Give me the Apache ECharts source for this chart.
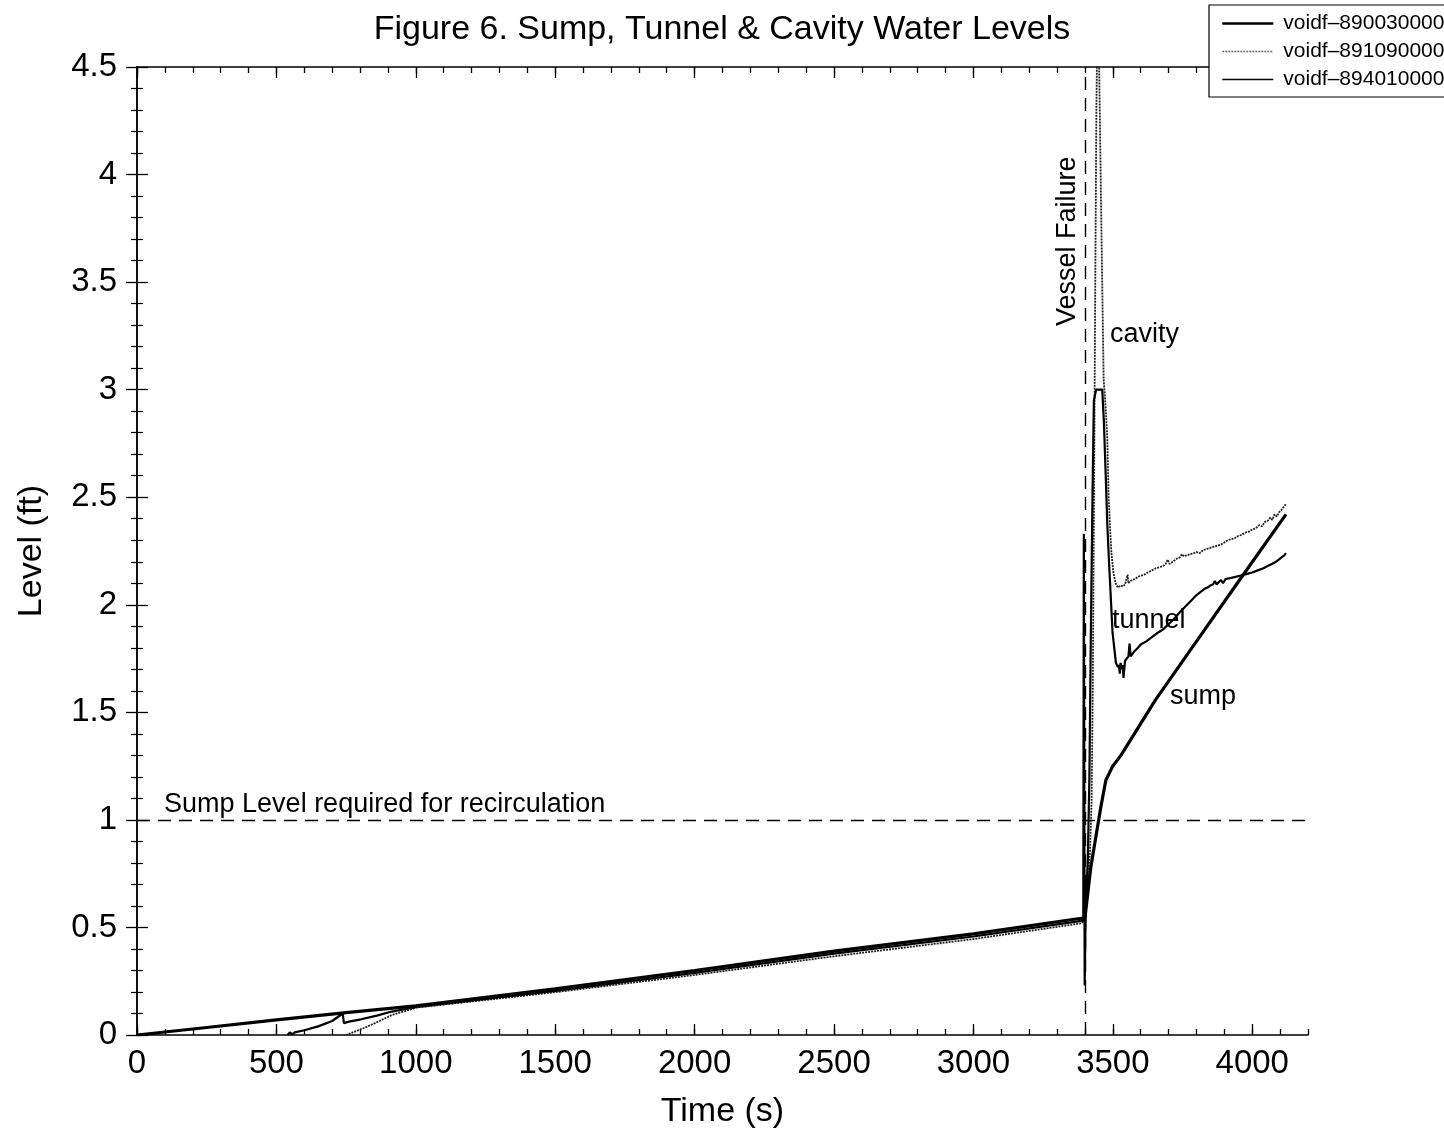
<!DOCTYPE html>
<html>
<head>
<meta charset="utf-8">
<style>
  html, body { margin: 0; padding: 0; background: #fff; }
  #chart { width: 1444px; height: 1134px; }
</style>
<script src="https://cdn.jsdelivr.net/npm/echarts@6/dist/echarts.min.js"></script>
</head>
<body>
<div id="chart"></div>
<script>
// Sump water level (voidf-890030000)
const sumpTime  = [0, 250, 500, 750, 1000, 1500, 2000, 2500, 3000, 3400, 3405, 3421, 3439, 3457, 3475, 3499, 3529, 3653, 3800, 3957, 4121];
const sumpLevel = [0, 0.035, 0.07, 0.104, 0.135, 0.215, 0.30, 0.39, 0.47, 0.545, 0.6, 0.78, 0.92, 1.06, 1.185, 1.248, 1.30, 1.558, 1.83, 2.12, 2.42];

// Cavity water level (voidf-891090000)
const cavityTime  = [749, 790, 826, 870, 914, 1002, 1500, 2000, 2500, 3000, 3390, 3399, 3404, 3410, 3418, 3424, 3428, 3433, 3437, 3441, 3444, 3451, 3459, 3467, 3474, 3480, 3485, 3490, 3495, 3502, 3510, 3518,
  3528, 3536, 3544, 3550, 3553, 3556, 3562, 3570, 3580, 3590, 3600, 3612, 3625, 3640, 3655, 3668, 3680, 3690, 3697, 3703, 3715, 3730, 3740, 3748, 3755, 3765, 3778, 3790, 3800, 3812, 3825, 3838, 3850, 3862, 3875, 3888, 3900, 3912, 3925, 3938, 3950, 3962, 3975, 3988, 4000, 4012, 4025, 4035, 4045, 4055, 4065, 4072, 4080, 4088, 4096, 4104, 4110, 4116, 4121];
const cavityLevel = [0, 0.02, 0.039, 0.065, 0.093, 0.127, 0.199, 0.279, 0.366, 0.446, 0.52, 0.55, 0.62, 0.72, 0.85, 1.1, 1.6, 2.6, 3.5, 4.3, 4.62, 4.5, 3.75, 3.05, 2.92, 2.78, 2.5, 2.36, 2.24, 2.15, 2.10, 2.08,
  2.09, 2.085, 2.095, 2.09, 2.14, 2.10, 2.11, 2.115, 2.12, 2.13, 2.135, 2.14, 2.15, 2.16, 2.17, 2.175, 2.18, 2.19, 2.21, 2.19, 2.20, 2.215, 2.22, 2.235, 2.225, 2.23, 2.235, 2.24, 2.245, 2.24, 2.255, 2.26, 2.265, 2.27, 2.275, 2.28, 2.29, 2.30, 2.305, 2.31, 2.32, 2.325, 2.335, 2.34, 2.35, 2.355, 2.37, 2.365, 2.385, 2.39, 2.405, 2.395, 2.42, 2.41, 2.43, 2.44, 2.435, 2.46, 2.47];

// Tunnel water level (voidf-894010000)
const tunnelTime  = [540, 548, 556, 566, 600, 650, 700, 738, 742, 760, 804, 860, 914, 1002, 1500, 2000, 2500, 3000, 3394, 3396, 3399, 3403, 3410, 3416, 3421, 3427, 3432, 3440, 3462, 3468, 3474, 3480, 3487, 3499, 3511, 3518,
  3522, 3525, 3528, 3532, 3536, 3538, 3544, 3550, 3556, 3560, 3564, 3575, 3590, 3600, 3620, 3640, 3661, 3680, 3700, 3720, 3740, 3755, 3770, 3785, 3800, 3815, 3830, 3840, 3850, 3860, 3866, 3872, 3880, 3888, 3895, 3905, 3912, 3925, 3940, 3955, 3970, 3985, 4000, 4020, 4040, 4055, 4070, 4085, 4095, 4105, 4115, 4121];
const tunnelLevel = [0, 0.012, 0.003, 0.012, 0.022, 0.04, 0.065, 0.10, 0.055, 0.062, 0.073, 0.09, 0.109, 0.131, 0.205, 0.289, 0.378, 0.458, 0.532, 2.33, 0.23, 0.62, 0.8, 1.2, 1.85, 2.5, 2.95, 3.0, 3.0, 2.85, 2.62, 2.38, 2.18, 1.87, 1.73, 1.71,
  1.72, 1.68, 1.73, 1.70, 1.72, 1.66, 1.74, 1.74, 1.76, 1.82, 1.76, 1.78, 1.80, 1.815, 1.83, 1.85, 1.87, 1.885, 1.91, 1.935, 1.965, 1.985, 2.005, 2.025, 2.045, 2.06, 2.075, 2.08, 2.09, 2.095, 2.11, 2.095, 2.105, 2.115, 2.10, 2.12, 2.12, 2.125, 2.13, 2.135, 2.14, 2.145, 2.15, 2.16, 2.17, 2.18, 2.19, 2.20, 2.21, 2.22, 2.23, 2.24];

// Reference levels
const recircLevel = 1.0;
const vesselFailureTime = 3400;

// Axis tick values
const xMajorStep = 500, xMinorStep = 100, xMax = 4200;
const yMajorStep = 0.5, yMax = 4.5;

const seriesNames = ['voidf\u2013890030000', 'voidf\u2013891090000', 'voidf\u2013894010000'];

function pairs(t, v) { return t.map((x, i) => [x, v[i]]); }

const FONT = '"Liberation Sans", Arial, Helvetica, sans-serif';
const chart = echarts.init(document.getElementById('chart'), null, { renderer: 'canvas' });

function xAxisDef(position, step, tickLen, withLabels) {
  return {
    type: 'value', position: position, min: 0, max: xMax, interval: step,
    axisLine: { show: withLabels !== null, lineStyle: { color: '#000', width: 1.5 } },
    axisTick: { show: true, inside: true, length: tickLen, lineStyle: { color: '#000', width: 1.3 } },
    axisLabel: withLabels ? {
      show: true, color: '#000', fontSize: 33, fontFamily: FONT, margin: 12,
      showMaxLabel: false, formatter: v => String(v)
    } : { show: false },
    splitLine: { show: false },
    name: withLabels ? 'Time (s)' : '',
    nameLocation: 'middle', nameGap: 60,
    nameTextStyle: { color: '#000', fontSize: 34, fontFamily: FONT }
  };
}

function yAxisDef(position, withLabels) {
  return {
    type: 'value', position: position, min: 0, max: yMax, interval: yMajorStep,
    axisLine: { show: true, lineStyle: { color: '#000', width: 1.5 } },
    axisTick: { show: true, inside: true, length: 11, lineStyle: { color: '#000', width: 1.3 } },
    minorTick: { show: true, splitNumber: 5, length: 6, lineStyle: { color: '#000', width: 1.2 } },
    axisLabel: withLabels ? { show: true, color: '#000', fontSize: 33, fontFamily: FONT, margin: 20 } : { show: false },
    splitLine: { show: false },
    name: withLabels ? 'Level (ft)' : '',
    nameLocation: 'middle', nameGap: 88,
    nameTextStyle: { color: '#000', fontSize: 34, fontFamily: FONT }
  };
}

const hiddenMarker = { color: 'rgba(0,0,0,0)', borderWidth: 0, opacity: 0 };

chart.setOption({
  animation: false,
  backgroundColor: '#fff',
  title: {
    text: 'Figure 6. Sump, Tunnel & Cavity Water Levels',
    left: 'center', top: 8,
    textStyle: { color: '#000', fontSize: 34, fontWeight: 'normal', fontFamily: FONT }
  },
  legend: {
    orient: 'vertical', left: 1209, top: 5,
    padding: [8, 40, 7, 12], itemGap: 7, itemWidth: 51, itemHeight: 14,
    borderColor: '#000', borderWidth: 1.2, backgroundColor: '#fff',
    textStyle: { color: '#000', fontSize: 21, fontFamily: FONT, padding: [0, 0, 0, 5] },
    data: [
      { name: seriesNames[0], itemStyle: hiddenMarker, lineStyle: { color: '#000', width: 2.6, type: 'solid' } },
      { name: seriesNames[1], itemStyle: hiddenMarker, lineStyle: { color: '#666', width: 1.4, type: [2, 1] } },
      { name: seriesNames[2], itemStyle: hiddenMarker, lineStyle: { color: '#000', width: 1.7, type: 'solid' } }
    ]
  },
  grid: { left: 137, right: 136, top: 67, bottom: 99, show: false },
  xAxis: [
    xAxisDef('bottom', xMajorStep, 11, true),
    xAxisDef('bottom', xMinorStep, 6, null),
    xAxisDef('top', xMajorStep, 11, false),
    xAxisDef('top', xMinorStep, 6, null)
  ],
  yAxis: [yAxisDef('left', true), yAxisDef('right', false)],
  series: [
    {
      name: seriesNames[0], type: 'line', xAxisIndex: 0, yAxisIndex: 0,
      data: pairs(sumpTime, sumpLevel), symbol: 'none', clip: true, z: 4,
      itemStyle: { color: '#000' },
      lineStyle: { color: '#000', width: 3.2 },
      markLine: {
        silent: true, symbol: 'none', label: { show: false },
        lineStyle: { color: '#000', width: 1.4, type: [13, 8] },
        data: [{ yAxis: recircLevel }, { xAxis: vesselFailureTime }]
      }
    },
    {
      name: seriesNames[1], type: 'line', xAxisIndex: 0, yAxisIndex: 0,
      data: pairs(cavityTime, cavityLevel), symbol: 'none', clip: true, z: 3,
      itemStyle: { color: '#444' },
      lineStyle: { color: '#222', width: 1.8, type: [2, 1] }
    },
    {
      name: seriesNames[2], type: 'line', xAxisIndex: 0, yAxisIndex: 0,
      data: pairs(tunnelTime, tunnelLevel), symbol: 'none', clip: true, z: 3,
      itemStyle: { color: '#000' },
      lineStyle: { color: '#000', width: 2.2 }
    }
  ]
});

// Curve and reference-line annotations, placed at data coordinates
const notes = [
  { text: 'Sump Level required for recirculation', at: [97, 1.07], align: 'left', rot: 0 },
  { text: 'Vessel Failure', at: [3337, 3.69], align: 'center', rot: Math.PI / 2 },
  { text: 'cavity', at: [3490, 3.256], align: 'left', rot: 0 },
  { text: 'tunnel', at: [3497, 1.926], align: 'left', rot: 0 },
  { text: 'sump', at: [3705, 1.572], align: 'left', rot: 0 }
];
chart.setOption({
  graphic: notes.map(n => {
    const p = chart.convertToPixel({ xAxisIndex: 0, yAxisIndex: 0 }, n.at);
    return {
      type: 'text', x: p[0], y: p[1], rotation: n.rot, z: 10,
      style: {
        text: n.text, fill: '#000', font: '27px ' + FONT,
        textAlign: n.align, textVerticalAlign: 'middle'
      }
    };
  })
});
</script>
</body>
</html>
